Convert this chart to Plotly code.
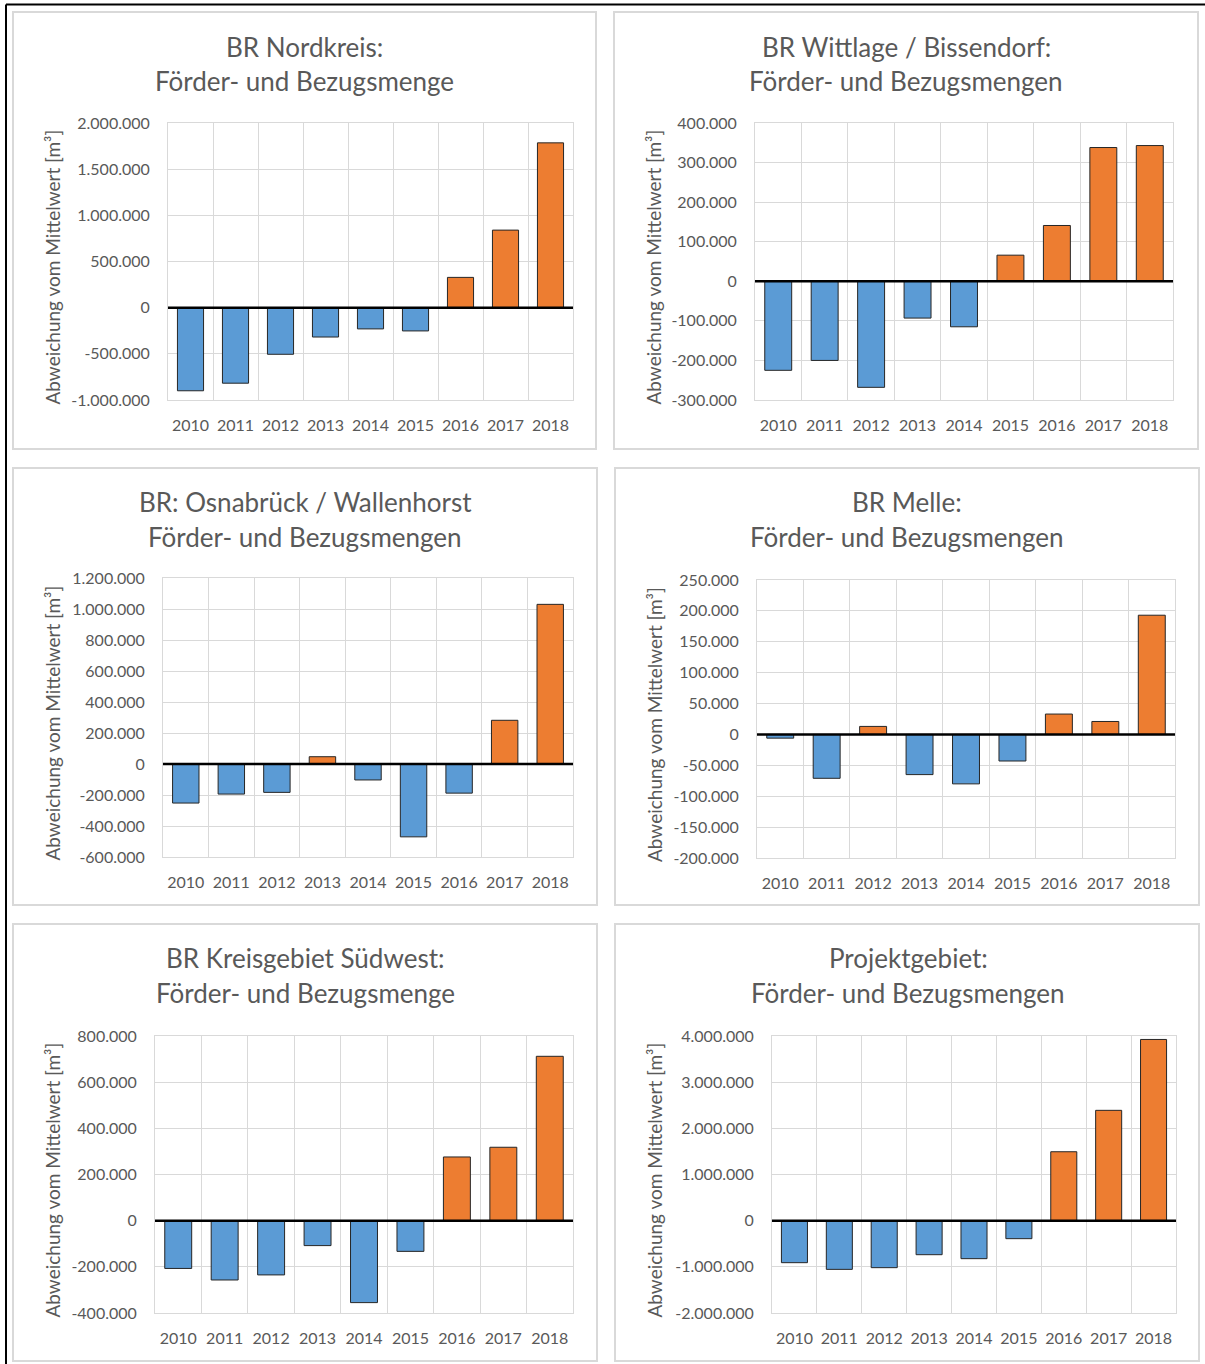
import plotly.graph_objects as go

W, H = 1205, 1364

years = ["2010", "2011", "2012", "2013", "2014", "2015", "2016", "2017", "2018"]

titles = [
    ["BR Nordkreis:", "Förder- und Bezugsmenge"],
    ["BR Wittlage / Bissendorf:", "Förder- und Bezugsmengen"],
    ["BR: Osnabrück / Wallenhorst", "Förder- und Bezugsmengen"],
    ["BR Melle:", "Förder- und Bezugsmengen"],
    ["BR Kreisgebiet Südwest:", "Förder- und Bezugsmenge"],
    ["Projektgebiet:", "Förder- und Bezugsmengen"],
]

# Abweichung vom Mittelwert [m³] je Jahr
nordkreis = [-900000, -818000, -505000, -318000, -230000, -252000, 328000, 840000, 1785000]
wittlage = [-225000, -200000, -268000, -93000, -115000, 66000, 141000, 338000, 343000]
osnabrueck = [-252000, -194000, -183000, 47000, -103000, -470000, -188000, 282000, 1030000]
melle = [-6000, -71000, 13000, -65000, -80000, -43000, 33000, 21000, 193000]
suedwest = [-207000, -257000, -235000, -108000, -355000, -133000, 276000, 318000, 712000]
projektgebiet = [-910000, -1055000, -1018000, -737000, -823000, -390000, 1493000, 2390000, 3925000]

series = [nordkreis, wittlage, osnabrueck, melle, suedwest, projektgebiet]

# y-axis range and step per panel
y_axes = [
    (-1000000, 2000000, 500000),
    (-300000, 400000, 100000),
    (-600000, 1200000, 200000),
    (-200000, 250000, 50000),
    (-400000, 800000, 200000),
    (-2000000, 4000000, 1000000),
]

y_title = "Abweichung vom Mittelwert [m³]"

# pixel layout: plot area (x0, x1, y0, y1), panel frame (x0, x1, y0, y1), title centre x, title y, label x
layout_px = [
    dict(plot=(168, 573, 123, 400), box=(13, 596, 12, 449), tx=304, ty=(47, 81), lx=52),
    dict(plot=(755, 1173, 123, 400), box=(614, 1198, 12, 449), tx=906, ty=(47, 81), lx=653),
    dict(plot=(163, 573, 578, 857), box=(13, 597, 468, 905), tx=305, ty=(502, 537), lx=52),
    dict(plot=(757, 1175, 580, 858), box=(615, 1199, 468, 905), tx=907, ty=(502, 537), lx=654),
    dict(plot=(155, 573, 1036, 1313), box=(13, 597, 924, 1361), tx=305, ty=(958, 993), lx=52),
    dict(plot=(772, 1176, 1036, 1313), box=(615, 1199, 924, 1361), tx=908, ty=(958, 993), lx=654),
]

BLUE = "#5b9bd5"
ORANGE = "#ed7d31"
TEXT = "#595959"
GRID = "#d9d9d9"
FONT = "Lato"


def px(x):
    return x / W


def py(y):
    return 1 - y / H


def fmt(v):
    s = f"{abs(v):,}".replace(",", ".")
    return ("-" if v < 0 else "") + s


fig = go.Figure()
shapes = []
annotations = []

for i, (vals, (ymin, ymax, step), lp) in enumerate(zip(series, y_axes, layout_px)):
    n = "" if i == 0 else str(i + 1)
    xa, ya = "x" + n, "y" + n
    colors = [ORANGE if v >= 0 else BLUE for v in vals]
    fig.add_trace(go.Bar(
        x=years, y=vals, xaxis=xa, yaxis=ya,
        marker=dict(color=colors, line=dict(color="#262626", width=1)),
        showlegend=False,
    ))

    x0, x1, y0, y1 = lp["plot"]
    ticks = list(range(ymin, ymax + step, step))
    fig.layout["xaxis" + n] = dict(
        domain=[px(x0), px(x1)], anchor=ya, type="category",
        tickson="boundaries", showgrid=True, gridcolor=GRID, gridwidth=1,
        showline=True, linecolor=GRID, mirror=True,
        ticks="", ticklabelstandoff=11, tickangle=0,
        tickfont=dict(family=FONT, size=16, color=TEXT),
        automargin=False, fixedrange=True,
    )
    fig.layout["yaxis" + n] = dict(
        domain=[py(y1), py(y0)], anchor=xa,
        range=[ymin, ymax], tickvals=ticks, ticktext=[fmt(t) for t in ticks],
        showgrid=True, gridcolor=GRID, gridwidth=1, zeroline=False,
        showline=True, linecolor=GRID, mirror=True,
        ticks="outside", ticklen=14, tickcolor="rgba(0,0,0,0)",
        tickfont=dict(family=FONT, size=16, color=TEXT),
        automargin=False, fixedrange=True,
    )

    # zero line drawn over the bars
    shapes.append(dict(
        type="line", xref=xa + " domain", yref=ya, x0=0, x1=1, y0=0, y1=0,
        line=dict(color="#000000", width=2.5), layer="above",
    ))

    # panel frame
    bx0, bx1, by0, by1 = lp["box"]
    shapes.append(dict(
        type="rect", xref="paper", yref="paper",
        x0=px(bx0), x1=px(bx1), y0=py(by1), y1=py(by0),
        line=dict(color=GRID, width=2), layer="below",
    ))

    for line_text, ty in zip(titles[i], lp["ty"]):
        annotations.append(dict(
            text=line_text, xref="paper", yref="paper",
            x=px(lp["tx"]), y=py(ty), xanchor="center", yanchor="middle",
            showarrow=False, font=dict(family=FONT, size=26, color=TEXT),
        ))

    annotations.append(dict(
        text=y_title, xref="paper", yref="paper",
        x=px(lp["lx"]), y=py((y0 + y1) / 2 + 6), xanchor="center", yanchor="middle",
        textangle=-90, showarrow=False, font=dict(family=FONT, size=19, color=TEXT),
    ))

# outer frame lines at top and left
shapes.append(dict(type="line", xref="paper", yref="paper", x0=px(6), x1=1, y0=py(4.5), y1=py(4.5),
                   line=dict(color="#000000", width=2)))
shapes.append(dict(type="line", xref="paper", yref="paper", x0=px(6), x1=px(6), y0=0, y1=py(4.5),
                   line=dict(color="#000000", width=2)))

fig.update_layout(
    width=W, height=H,
    margin=dict(l=0, r=0, t=0, b=0, pad=0, autoexpand=False),
    paper_bgcolor="white", plot_bgcolor="white",
    bargap=0.42,
    shapes=shapes, annotations=annotations,
    font=dict(family=FONT, color=TEXT),
)

fig.write_html(
    "out.html",
    config=dict(displayModeBar=False, responsive=False),
    post_script="document.body.style.margin='0';"
                "document.body.style.overflow='hidden';"
                "document.documentElement.style.overflow='hidden';",
)
